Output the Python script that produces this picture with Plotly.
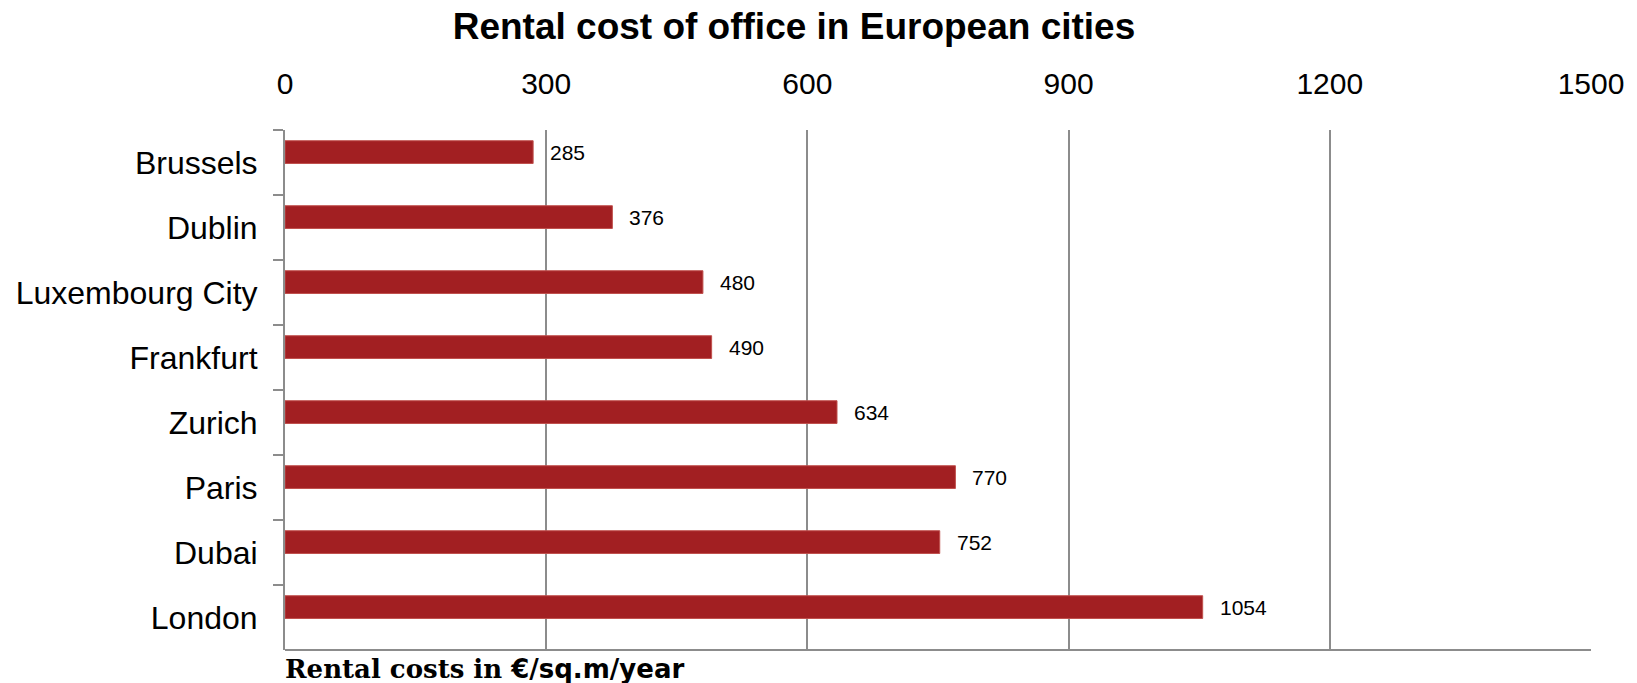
import plotly.graph_objects as go

# Office rents, €/sq.m/year
cities = ["Brussels", "Dublin", "Luxembourg City", "Frankfurt",
          "Zurich", "Paris", "Dubai", "London"]
rents = [285, 376, 480, 490, 634, 770, 752, 1054]
x_ticks = [0, 300, 600, 900, 1200, 1500]

BAR = "#a21f22"
GRID = "#8c8c8c"
SANS = "Liberation Sans, Arial, sans-serif"

# bars sit in the upper half of each category slot
BAR_W = 0.35
BAR_OFFSET = -0.335

fig = go.Figure(
    go.Bar(
        x=rents,
        y=cities,
        orientation="h",
        width=BAR_W,
        offset=BAR_OFFSET,
        marker=dict(color=BAR, line=dict(color="#c0504d", width=1)),
        hoverinfo="x+y",
    )
)

# value labels to the right of each bar, level with the bar
for c, v in zip(cities, rents):
    fig.add_annotation(
        x=v, y=c, text=str(v), showarrow=False,
        xanchor="left", yanchor="middle", xshift=15, yshift=10,
        font=dict(family=SANS, size=21, color="#000000"),
    )

# axis caption under the plot
fig.add_annotation(
    xref="paper", yref="paper", x=0, y=0,
    xanchor="left", yanchor="top", yshift=-2, xshift=-2,
    text="<b><span style='font-family:DejaVu Serif'>Rental costs in </span>€/sq.m/year</b>",
    showarrow=False,
    font=dict(family="DejaVu Sans, sans-serif", size=26, color="#000000"),
)

# bottom frame line
fig.add_shape(
    type="line", xref="paper", yref="paper",
    x0=0, x1=1, y0=0, y1=0,
    line=dict(color=GRID, width=2),
)

fig.update_layout(
    width=1637, height=683,
    margin=dict(l=285, r=46, t=130, b=33),
    paper_bgcolor="white", plot_bgcolor="white",
    showlegend=False,
    title=dict(
        text="<b>Rental cost of office in European cities</b>",
        x=794 / 1637, xanchor="center", xref="container",
        y=1 - 26 / 683, yanchor="middle", yref="container",
        font=dict(family=SANS, size=37, color="#000000"),
    ),
    xaxis=dict(
        side="top", range=[0, 1500], tickvals=x_ticks,
        ticktext=[str(t) for t in x_ticks],
        showgrid=True, gridcolor=GRID, gridwidth=2,
        showline=False, zeroline=False, ticks="",
        ticklabelstandoff=29,
        tickfont=dict(family=SANS, size=30, color="#000000"),
    ),
    yaxis=dict(
        categoryorder="array", categoryarray=cities,
        autorange="reversed",
        showline=True, linecolor=GRID, linewidth=2,
        ticks="outside", tickson="boundaries", ticklen=10,
        tickcolor=GRID, tickwidth=2,
        showgrid=False, zeroline=False,
        ticklabelstandoff=19,
        tickfont=dict(family=SANS, size=32, color="#000000"),
    ),
)

fig.write_html("out.html")
